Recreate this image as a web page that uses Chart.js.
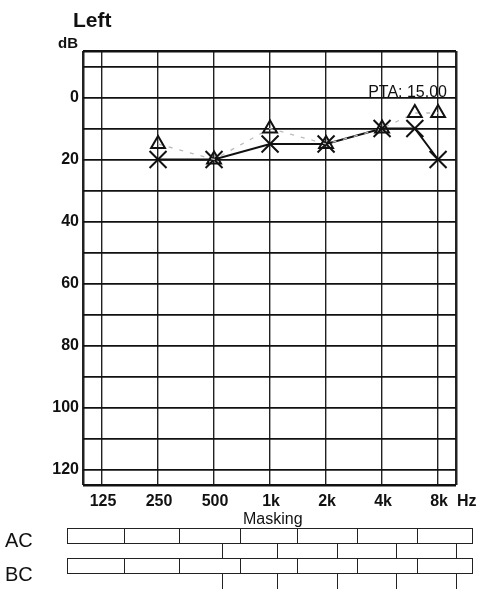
<!DOCTYPE html>
<html>
<head>
<meta charset="utf-8">
<script src="https://cdn.jsdelivr.net/npm/chart.js@4"></script>
<style>
  body { margin: 0; background: #fff; }
  #wrap { position: relative; width: 479px; height: 589px; overflow: hidden; font-family: "Liberation Sans", Arial, sans-serif; color: #111; }
  #audio { position: absolute; left: 0; top: 0; }
  .lbl { position: absolute; line-height: 1; white-space: nowrap; }
  .box { position: absolute; border: 1.5px solid #222; box-sizing: border-box; }
  .vl { position: absolute; width: 0; border-left: 1.5px solid #222; }
</style>
</head>
<body>
<div id="wrap">
  <canvas id="audio" width="479" height="589"></canvas>
  <div class="lbl" style="left:73px; top:9px; font-size:21px; font-weight:bold;">Left</div>
  <div class="lbl" style="left:58px; top:35px; font-size:15px; font-weight:bold;">dB</div>
  <div class="lbl" style="left:457px; top:493px; font-size:16px; font-weight:bold;">Hz</div>
  <div class="lbl" style="left:243px; top:511px; font-size:16px;">Masking</div>
  <div class="lbl" style="left:5px; top:530px; font-size:20px;">AC</div>
  <div class="lbl" style="left:5px; top:564px; font-size:20px;">BC</div>
  <div id="mask"></div>
</div>
<script>
// frequencies (Hz) and their axis labels
let freqs = [250, 500, 1000, 2000, 4000, 6000, 8000];
let freqLabels = ["125", "250", "500", "1k", "2k", "4k", "8k"];
let dbLabels = [0, 20, 40, 60, 80, 100, 120];

// left ear thresholds (dB)
let acLevels = [20, 20, 15, 15, 10, 10, 20];     // X, solid line
let triLevels = [15, 20, 10, 15, 10, 5, 5];      // triangles, dashed line
let pta = 15.00;

// axis ranges (octaves above 125 Hz / dB HL)
let xMin = -0.34, xMax = 6.32;
let yMin = -15, yMax = 125;

function oct(f) { return Math.log2(f / 125); }

let xGrid = [xMin, 0, 1, 2, 3, 4, 5, 6, xMax];
let yGrid = [yMin];
for (let v = -10; v <= 120; v += 10) yGrid.push(v);
yGrid.push(yMax);

let acPoints = freqs.map((f, i) => ({ x: oct(f), y: acLevels[i] }));
let triPoints = freqs.map((f, i) => ({ x: oct(f), y: triLevels[i] }));

let tickFont = { family: "Liberation Sans, Arial, sans-serif", size: 16, weight: "bold" };

let ptaPlugin = {
    id: "pta",
    afterDatasetsDraw(chart) {
        let ctx = chart.ctx;
        let y = chart.scales.y.getPixelForValue(0);
        ctx.save();
        ctx.font = "16px 'Liberation Sans', Arial, sans-serif";
        ctx.fillStyle = "#111";
        ctx.textAlign = "right";
        ctx.textBaseline = "alphabetic";
        ctx.fillText("PTA: " + pta.toFixed(2), chart.chartArea.right - 9, y - 1);
        ctx.restore();
    }
};

new Chart(document.getElementById("audio"), {
    type: "line",
    data: {
        datasets: [{
            label: "Triangle",
            data: triPoints,
            borderColor: "#bbb",
            borderWidth: 1.3,
            borderDash: [4, 7],
            pointStyle: "triangle",
            pointRadius: 8,
            pointBorderColor: "#111",
            pointBackgroundColor: "rgba(0,0,0,0)",
            pointBorderWidth: 2,
            tension: 0
        }, {
            label: "AC",
            data: acPoints,
            borderColor: "#111",
            borderWidth: 2,
            pointStyle: "crossRot",
            pointRadius: 12,
            pointBorderColor: "#111",
            pointBorderWidth: 2,
            tension: 0
        }]
    },
    options: {
        responsive: false,
        animation: false,
        layout: { padding: { top: 51, right: 23, left: 0, bottom: 0 } },
        plugins: { legend: { display: false }, tooltip: { enabled: false } },
        scales: {
            x: {
                type: "linear",
                min: xMin,
                max: xMax,
                afterFit(scale) { scale.height = 104; },
                afterBuildTicks(scale) { scale.ticks = xGrid.map(v => ({ value: v })); },
                grid: {
                    drawTicks: false,
                    color: "#222",
                    lineWidth: c => (c.tick && (c.tick.value === xMin || c.tick.value === xMax)) ? 2.5 : 1.4
                },
                border: { display: false },
                ticks: {
                    autoSkip: false,
                    maxRotation: 0,
                    padding: 7,
                    labelOffset: 1,
                    color: "#111",
                    font: tickFont,
                    callback: v => (Number.isInteger(v) && v >= 0) ? freqLabels[v] : ""
                }
            },
            y: {
                type: "linear",
                reverse: true,
                min: yMin,
                max: yMax,
                afterFit(scale) { scale.width = 83; },
                afterBuildTicks(scale) { scale.ticks = yGrid.map(v => ({ value: v })); },
                grid: {
                    drawTicks: false,
                    color: "#111",
                    lineWidth: c => (c.tick && (c.tick.value === yMin || c.tick.value === yMax)) ? 2.5 : 1.8
                },
                border: { display: false },
                ticks: {
                    autoSkip: false,
                    padding: 4,
                    color: "#111",
                    font: tickFont,
                    callback: v => dbLabels.includes(v) ? String(v) : ""
                }
            }
        }
    },
    plugins: [ptaPlugin]
});

// masking table (empty cells)
let maskLeft = 67, maskRight = 473;
let rowTops = [528, 558];
let rowHeight = 15;
let cellEdges = [124, 179, 240, 297, 357, 417];
let stepEdges = [222, 277, 337, 396, 456];
let mask = document.getElementById("mask");
function addDiv(cls, style) {
    let d = document.createElement("div");
    d.className = cls;
    d.setAttribute("style", style);
    mask.appendChild(d);
}
rowTops.forEach(top => {
    addDiv("box", `left:${maskLeft}px; top:${top}px; width:${maskRight - maskLeft}px; height:${rowHeight + 1}px;`);
    cellEdges.forEach(x => addDiv("vl", `left:${x}px; top:${top}px; height:${rowHeight}px;`));
    stepEdges.forEach(x => addDiv("vl", `left:${x}px; top:${top + rowHeight}px; height:${rowHeight + 1}px;`));
});
</script>
</body>
</html>
